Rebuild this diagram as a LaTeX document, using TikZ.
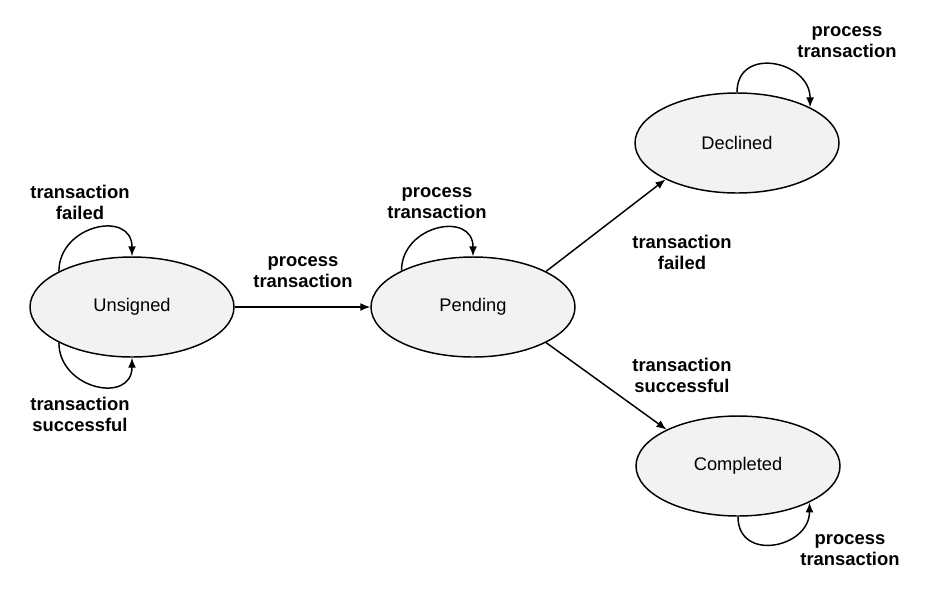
\documentclass[tikz,border=0pt]{standalone}
\usepackage{fontspec}
\setmainfont{Liberation Sans}
\usetikzlibrary{arrows.meta,shapes.geometric}
\tikzset{
  state/.style={ellipse,draw,fill=black!5,line width=1.1pt,minimum width=153pt,minimum height=75pt,inner sep=0pt,font=\fontsize{13.7}{15.8}\selectfont},
  lbl/.style={align=center,font=\fontsize{13.8}{15.8}\selectfont\bfseries},
  trans/.style={-{Latex[length=7.5pt,width=6pt]},line width=1.1pt}
}
\begin{document}
\begin{tikzpicture}[x=0.75pt,y=-0.75pt]
  \useasboundingbox (0,0) rectangle (938,594);
  % states
  \node[state] (u) at (132,307) {Unsigned};
  \node[state] (p) at (473,307) {Pending};
  \node[state] (d) at (737,143) {Declined};
  \node[state] (c) at (738,466) {Completed};

  % transitions
  \draw[trans] (u) -- (p);
  \draw[trans] (p.26) -- (d.207);
  \draw[trans] (p.334) -- (c.153);

  % loops
  \draw[trans] (u.154) to[out=90,in=90,looseness=1.6] (u.north);
  \draw[trans] (u.206) to[out=-90,in=-90,looseness=1.6] (u.south);
  \draw[trans] (p.153) to[out=90,in=90,looseness=1.6] (p.north);
  \draw[trans] (d.north) to[out=90,in=90,looseness=1.6] (d.26);
  \draw[trans] (c.south) to[out=-90,in=-90,looseness=1.6] (c.333);

  % labels
  \node[lbl] (lu1) at (80,202) {transaction\\failed};
  \node[lbl] (lu2) at (80,414) {transaction\\successful};
  \node[lbl] (lp) at (437,203) {process\\transaction};
  \node[lbl] (lup) at (303,272) {process\\transaction};
  \node[lbl] (lpd) at (682,252) {transaction\\failed};
  \node[lbl] (lpc) at (682,375) {transaction\\successful};
  \node[lbl] (ld) at (847,42) {process\\transaction};
  \node[lbl] (lc) at (850,550) {process\\transaction};
\end{tikzpicture}
\end{document}
